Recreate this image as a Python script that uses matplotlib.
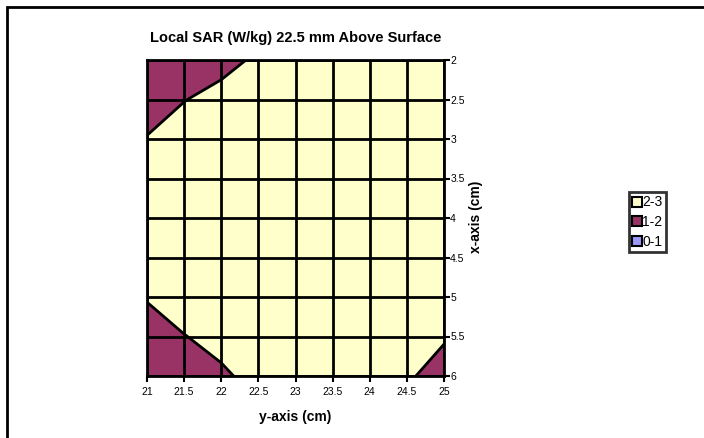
import numpy as np
import matplotlib
matplotlib.use("Agg")
import matplotlib.pyplot as plt
from matplotlib.lines import Line2D
from matplotlib.patches import Rectangle

plt.rcParams['font.family'] = ['Liberation Sans', 'DejaVu Sans']

# grid coordinates
y_cm = [21, 21.5, 22, 22.5, 23, 23.5, 24, 24.5, 25]
x_cm = [2, 2.5, 3, 3.5, 4, 4.5, 5, 5.5, 6]

# local SAR (W/kg), rows = x-axis, cols = y-axis
sar = [
    [1.60, 1.70, 1.80, 2.10, 2.50, 2.50, 2.50, 2.50, 2.50],
    [1.80, 1.98, 2.20, 2.50, 2.50, 2.50, 2.50, 2.50, 2.50],
    [2.02, 2.30, 2.50, 2.50, 2.50, 2.50, 2.50, 2.50, 2.50],
    [2.50, 2.50, 2.50, 2.50, 2.50, 2.50, 2.50, 2.50, 2.50],
    [2.50, 2.50, 2.50, 2.50, 2.50, 2.50, 2.50, 2.50, 2.50],
    [2.50, 2.50, 2.50, 2.50, 2.50, 2.50, 2.50, 2.50, 2.50],
    [2.03, 2.30, 2.50, 2.50, 2.50, 2.50, 2.50, 2.50, 2.50],
    [1.80, 1.98, 2.20, 2.50, 2.50, 2.50, 2.50, 2.50, 2.06],
    [1.60, 1.70, 1.90, 2.20, 2.50, 2.50, 2.50, 2.08, 1.75],
]

levels = [0, 1, 2, 3]
band_labels = ['2-3', '1-2', '0-1']
band_colors = ['#9999FF', '#993366', '#FFFFCC']  # 0-1, 1-2, 2-3

fig = plt.figure(figsize=(7.04, 4.38), dpi=100)
ax = fig.add_axes([147/704, 1 - 376/438, (444 - 147)/704, (376 - 60)/438])

Y, X = np.meshgrid(y_cm, x_cm)
Z = np.array(sar)
ax.contourf(Y, X, Z, levels=levels, colors=band_colors)
ax.contour(Y, X, Z, levels=[2], colors='black', linewidths=2)

# grid lines
for v in y_cm:
    ax.axvline(v, color='black', lw=2)
for v in x_cm:
    ax.axhline(v, color='black', lw=2)

ax.set_xlim(21, 25)
ax.set_ylim(6, 2)
ax.set_xticks(y_cm)
ax.set_xticklabels([f'{v:g}' for v in y_cm])
ax.set_yticks(x_cm)
ax.set_yticklabels([f'{v:g}' for v in x_cm])
ax.yaxis.tick_right()
ax.tick_params(axis='both', direction='out', length=4, width=1.5, labelsize=7.5,
               colors='black')
ax.tick_params(axis='y', pad=0.5)
ax.tick_params(axis='x', pad=4)
for s in ax.spines.values():
    s.set_linewidth(2)

ax.set_title('Local SAR (W/kg) 22.5 mm Above Surface', fontsize=10.5,
             fontweight='bold', pad=13)
fig.text(295/704, 1 - 417/438, 'y-axis (cm)', ha='center', va='center',
         fontsize=10, fontweight='bold')
fig.text(476/704, 1 - 217/438, 'x-axis (cm)', ha='center', va='center',
         rotation=90, fontsize=10, fontweight='bold')

# legend
handles = [Line2D([], [], marker='s', ls='none', markersize=7.5,
                  markerfacecolor=c, markeredgecolor='black', markeredgewidth=1.5)
           for c in band_colors[::-1]]
leg = fig.legend(handles, band_labels, loc='upper left',
                 bbox_to_anchor=(629/704, 1 - 192/438), fontsize=10,
                 frameon=True, fancybox=False, handlelength=0.6,
                 handletextpad=0.1, labelspacing=0.4, borderpad=0.25,
                 borderaxespad=0)
leg.get_frame().set_edgecolor('black')
leg.get_frame().set_linewidth(2)

# chart area border
fig.patches.append(Rectangle((7/704, -0.1), 1.2, 1.1 - 7/438,
                             transform=fig.transFigure, fill=False,
                             edgecolor='black', lw=2))

fig.savefig('out.png', dpi=100)
